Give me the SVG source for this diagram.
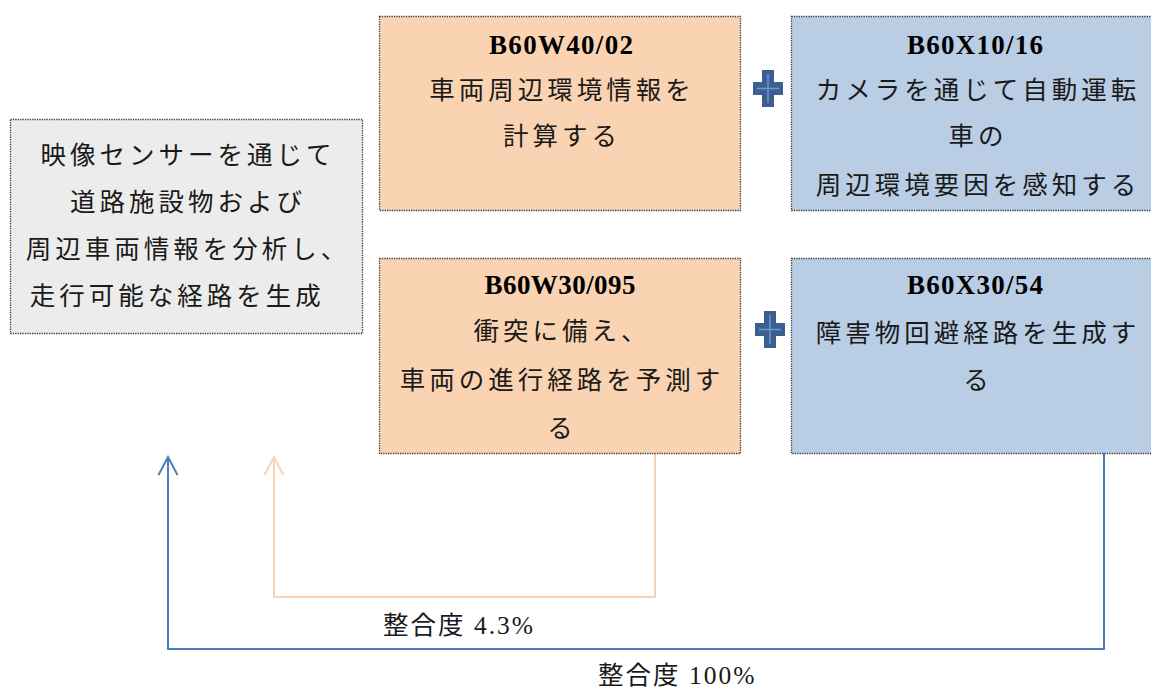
<svg xmlns="http://www.w3.org/2000/svg" width="1151" height="690" viewBox="0 0 1151 690">
<style>
.box{stroke:#3a3a3a;stroke-width:1.3;stroke-dasharray:1.3 1.1}
.gray{fill:#ececec}
.org{fill:#fad3b2}
.blu{fill:#b9cde5}
.jp{font-family:"Liberation Serif","Noto Sans CJK JP",serif;font-size:25.5px;fill:#1a1a1a;letter-spacing:4px;text-anchor:middle}
.code{font-family:"Liberation Serif","Noto Sans CJK JP",serif;font-size:27px;font-weight:bold;fill:#000;text-anchor:middle}
.lbl{font-family:"Liberation Serif","Noto Sans CJK JP",serif;font-size:25.5px;fill:#1a1a1a;letter-spacing:2px}
.plus{fill:#3d5f8f}
.plusln{stroke:#6e98cf;stroke-width:1.5;fill:none}
.cb{fill:none;stroke:#4a7ebb;stroke-width:2}
.co{fill:none;stroke:#f9d3b2;stroke-width:2}
</style>
<defs>
<marker id="ab" viewBox="-20 -11 22 22" refX="0" refY="0" markerWidth="22" markerHeight="22" markerUnits="userSpaceOnUse" orient="auto">
<path d="M -18 -9.5 L 0 0 L -18 9.5" fill="none" stroke="#4a7ebb" stroke-width="2"/>
</marker>
<marker id="ao" viewBox="-20 -11 22 22" refX="0" refY="0" markerWidth="22" markerHeight="22" markerUnits="userSpaceOnUse" orient="auto">
<path d="M -18 -9.5 L 0 0 L -18 9.5" fill="none" stroke="#f9d3b2" stroke-width="2"/>
</marker>
<g id="plusicon">
<path class="plus" d="M 9 0 H 21 V 12 H 30 V 25 H 21 V 37 H 9 V 25 H 0 V 12 H 9 Z"/>
<path class="plusln" d="M 15 4 V 33 M 4 18.5 H 26"/>
</g>
</defs>

<g id="connectors">
<path class="cb" d="M 1104 453 V 649 H 168 V 457" marker-end="url(#ab)"/>
<path class="co" d="M 655 453 V 597 H 274 V 457" marker-end="url(#ao)"/>
<text class="lbl" x="383" y="634">整合度 4.3%</text>
<text class="lbl" x="598" y="684">整合度 100%</text>
</g>

<g id="node-left">
<rect class="box gray" x="10.5" y="119.5" width="352" height="214"/>
<text class="jp" x="188" y="164">映像センサーを通じて</text>
<text class="jp" x="188" y="211">道路施設物および</text>
<text class="jp" x="188" y="258">周辺車両情報を分析し、</text>
<text class="jp" x="192" y="305">走行可能な経路を生成　</text>
</g>

<g id="node-b60w40">
<rect class="box org" x="379.5" y="16.5" width="361" height="194"/>
<text class="code" x="561" y="54" textLength="144">B60W40/02</text>
<text class="jp" x="562" y="99">車両周辺環境情報を</text>
<text class="jp" x="562" y="145">計算する</text>
</g>

<g id="node-b60x10">
<rect class="box blu" x="791.5" y="16.5" width="368" height="194"/>
<text class="code" x="975" y="54" textLength="136">B60X10/16</text>
<text class="jp" x="978" y="99">カメラを通じて自動運転</text>
<text class="jp" x="978" y="145">車の</text>
<text class="jp" x="978" y="194">周辺環境要因を感知する</text>
</g>

<g id="node-b60w30">
<rect class="box org" x="379.5" y="258.5" width="361" height="195"/>
<text class="code" x="560" y="294" textLength="151">B60W30/095</text>
<text class="jp" x="562" y="340">衝突に備え、</text>
<text class="jp" x="562" y="389">車両の進行経路を予測す</text>
<text class="jp" x="562" y="437">る</text>
</g>

<g id="node-b60x30">
<rect class="box blu" x="791.5" y="258.5" width="368" height="195"/>
<text class="code" x="975" y="294" textLength="136">B60X30/54</text>
<text class="jp" x="978" y="342">障害物回避経路を生成す</text>
<text class="jp" x="978" y="389">る</text>
</g>

<g id="plus-top"><use href="#plusicon" x="753" y="70"/></g>
<g id="plus-bottom"><use href="#plusicon" x="755" y="311"/></g>
</svg>
